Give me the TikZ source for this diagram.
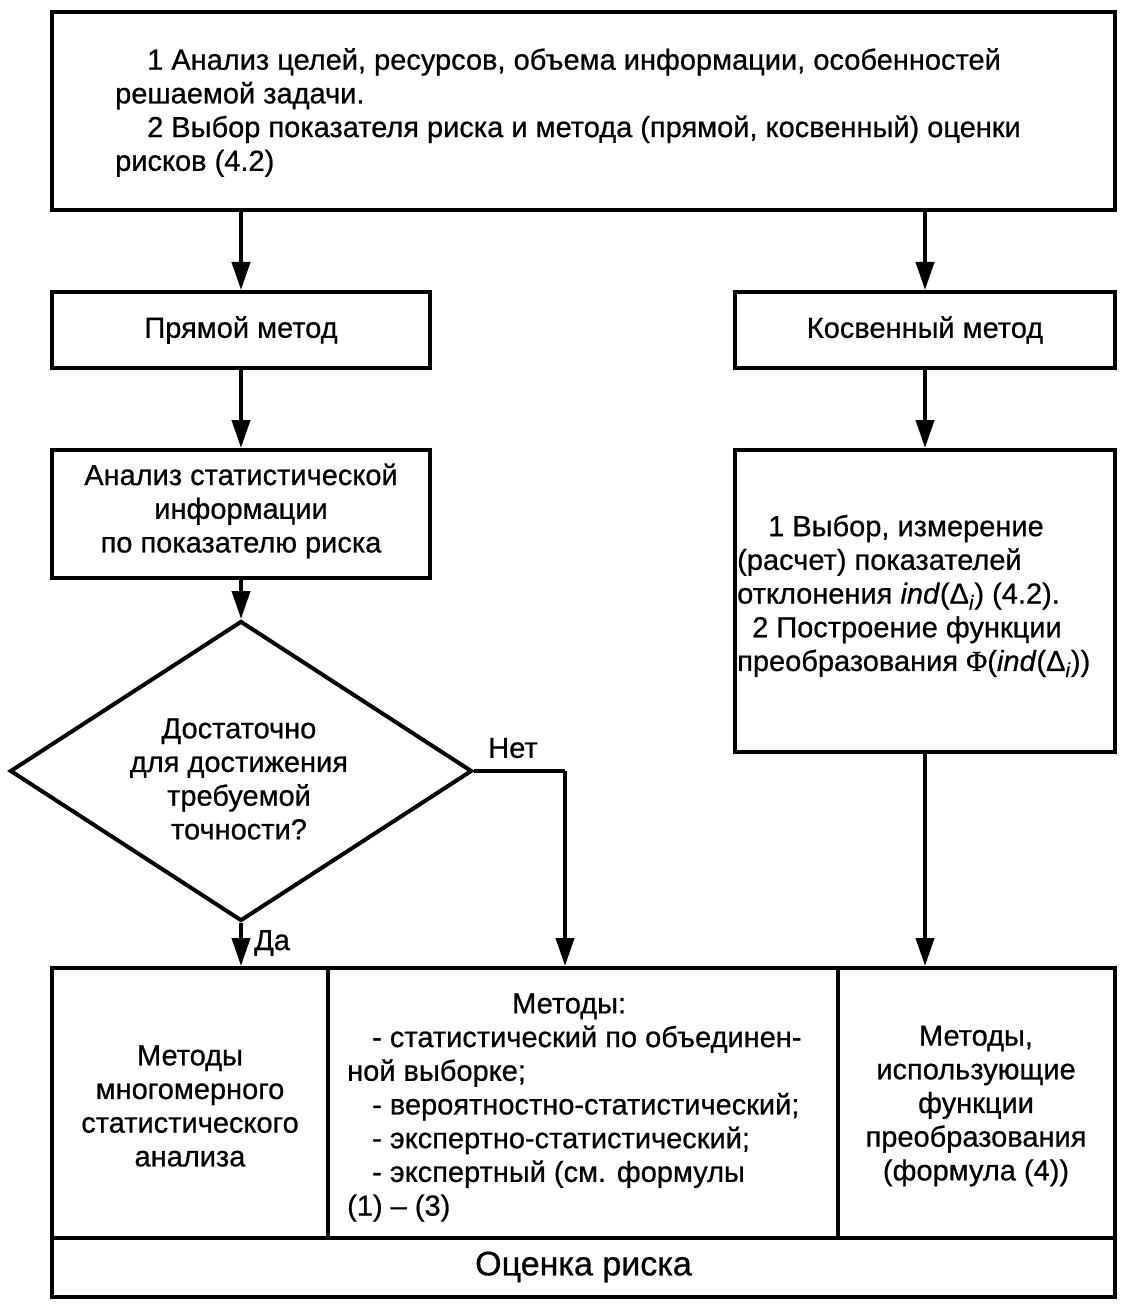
\documentclass[tikz,border=0pt]{standalone}
\usepackage{fontspec}
\setmainfont{Liberation Sans}[FakeBold=0.7]
\newfontfamily\phifont{Liberation Serif}[FakeBold=0.7]
\usetikzlibrary{arrows.meta,shapes.geometric}
\begin{document}
\begin{tikzpicture}[x=1pt,y=-1pt,
  box/.style={draw,line width=4pt,inner sep=0pt,rectangle},
  txt/.style={inner sep=0pt,font=\fontsize{29}{33.7}\selectfont},
  arr/.style={line width=4pt,-{Triangle[length=28pt,width=18pt]}},
  ln/.style={line width=4pt}]
\useasboundingbox (0,0) rectangle (1124,1305);
% boxes
\node[box,minimum width=1063pt,minimum height=198pt] (top) at (583.5,111) {};
\node[box,minimum width=378pt,minimum height=76pt] (direct) at (241,330) {};
\node[box,minimum width=380pt,minimum height=76pt] (indirect) at (925,330) {};
\node[box,minimum width=378pt,minimum height=128pt] (analysis) at (241,514) {};
\node[box,minimum width=380pt,minimum height=302pt] (rbox) at (925,601) {};
\node[draw,line width=4pt,diamond,inner sep=0pt,minimum width=462pt,minimum height=300pt] (dec) at (241,771) {};
\node[box,minimum width=276pt,minimum height=270pt] (cellL) at (190,1103) {};
\node[box,minimum width=510pt,minimum height=270pt] (cellM) at (583,1103) {};
\node[box,minimum width=277pt,minimum height=270pt] (cellR) at (976.5,1103) {};
\node[box,minimum width=1063pt,minimum height=59pt] (result) at (583.5,1267.5) {};
% texts
\node[txt,anchor=west,align=left] (ttop) at (115,112.5) {\hspace*{32pt}1 Анализ целей, ресурсов, объема информации, особенностей\\
решаемой задачи.\\
\hspace*{32pt}2 Выбор показателя риска и метода (прямой, косвенный) оценки\\
рисков (4.2)};
\node[txt] (tdirect) at (direct) {Прямой метод};
\node[txt] (tindirect) at (indirect) {Косвенный метод};
\node[txt,align=center] (tanalysis) at (241,511) {Анализ статистической\\информации\\по показателю риска};
\node[txt,anchor=west,align=left] (trbox) at (737,596) {\hspace*{31pt}1 Выбор, измерение\\
(расчет) показателей\\
отклонения \textit{ind}(Δ\textsubscript{\textit{i}}) (4.2).\\
\hspace*{15pt}2 Построение функции\\
преобразования {\phifont Φ}(\textit{ind}(Δ\textsubscript{\textit{i}}))};
\node[txt,align=center] (tdec) at (239,779) {Достаточно\\для достижения\\требуемой\\точности?};
\node[txt,align=center] (tcellL) at (190,1106) {Методы\\многомерного\\статистического\\анализа};
\node[txt,anchor=west,align=left] (tcellM) at (347,1107.5) {\hspace*{165pt}Методы:\\
\hspace*{25pt}- статистический по объединен-\\
ной выборке;\\
\hspace*{25pt}- вероятностно-статистический;\\
\hspace*{25pt}- экспертно-статистический;\\
\hspace*{25pt}- экспертный (см. формулы\\
(1) – (3)};
\node[txt,align=center] (tcellR) at (976,1106) {Методы,\\использующие\\функции\\преобразования\\(формула (4))};
\node[inner sep=0pt,font=\fontsize{34}{40}\selectfont] (tresult) at (583.5,1267) {Оценка риска};
% connectors
\coordinate (netc) at (565,771);
\draw[arr] (top.south -| direct) -- (direct.north);
\draw[arr] (top.south -| indirect) -- (indirect.north);
\draw[arr] (direct.south) -- (analysis.north);
\draw[arr] (analysis.south) -- (dec.north);
\draw[arr] (indirect.south) -- (rbox.north);
\draw[arr] (dec.south) -- (dec.south |- cellL.north);
\draw[ln] (dec.east) -- (netc);
\draw[arr] (netc) -- (netc |- cellM.north);
\draw[arr] (rbox.south) -- (rbox.south |- cellR.north);
\node[txt] (lnet) at (513,748) {Нет};
\node[txt,anchor=west] (lda) at (254,943) {Да};
\end{tikzpicture}
\end{document}
